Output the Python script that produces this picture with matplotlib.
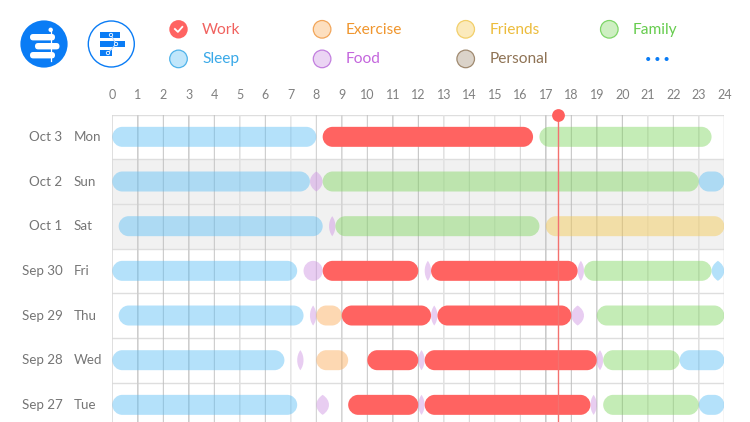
# -*- coding: utf-8 -*-
import matplotlib
matplotlib.use("Agg")
import matplotlib.pyplot as plt
from matplotlib.patches import Circle, FancyBboxPatch, PathPatch, Polygon
from matplotlib.path import Path

plt.rcParams["font.family"] = ["Lato", "DejaVu Sans"]

# ==============================================================
#  Data (hours of the day, per row, top row first)
# ==============================================================
dates = ["Oct 3", "Oct 2", "Oct 1", "Sep 30", "Sep 29", "Sep 28", "Sep 27"]
weekdays = ["Mon", "Sun", "Sat", "Fri", "Thu", "Wed", "Tue"]
hours = list(range(25))
now_hour = 17.47

oct3 = [("Sleep", 0, 8), ("Work", 8.25, 16.5), ("Family", 16.75, 23.5)]
oct2 = [("Sleep", 0, 7.75), ("Food", 7.75, 8.25), ("Family", 8.25, 23), ("Sleep", 23, 24)]
oct1 = [("Sleep", 0.25, 8.25), ("Food", 8.5, 8.75), ("Family", 8.75, 16.75), ("Friends", 17, 24)]
sep30 = [("Sleep", 0, 7.25), ("Food", 7.5, 8.25), ("Work", 8.25, 12), ("Food", 12.25, 12.5),
         ("Work", 12.5, 18.25), ("Food", 18.25, 18.5), ("Family", 18.5, 23.5), ("Sleep", 23.5, 24)]
sep29 = [("Sleep", 0.25, 7.5), ("Food", 7.75, 8), ("Exercise", 8, 9), ("Work", 9, 12.5),
         ("Food", 12.5, 12.75), ("Work", 12.75, 18), ("Food", 18, 18.5), ("Family", 19, 24)]
sep28 = [("Sleep", 0, 6.75), ("Food", 7.25, 7.5), ("Exercise", 8, 9.25), ("Work", 10, 12),
         ("Food", 12, 12.25), ("Work", 12.25, 19), ("Food", 19, 19.25), ("Family", 19.25, 22.25),
         ("Sleep", 22.25, 24)]
sep27 = [("Sleep", 0, 7.25), ("Food", 8, 8.5), ("Work", 9.25, 12), ("Food", 12, 12.25),
         ("Work", 12.25, 18.75), ("Food", 18.75, 19), ("Family", 19.25, 23), ("Sleep", 23, 24)]
rows = [oct3, oct2, oct1, sep30, sep29, sep28, sep27]

shaded_rows = [1, 2]

legend_top = ["Work", "Exercise", "Friends", "Family"]
legend_bottom = ["Sleep", "Food", "Personal"]

bar_colors = {"Work": "#ff6361", "Sleep": "#5abef6", "Family": "#7ed55d", "Food": "#cc90e2",
              "Exercise": "#fbaa56", "Friends": "#f5c84e", "Personal": "#a08a70"}
text_colors = {"Work": "#f0625f", "Exercise": "#f0962e", "Friends": "#ecbc3c", "Family": "#66cc4e",
               "Sleep": "#3aa9e8", "Food": "#c466dd", "Personal": "#8f7355"}
edge_colors = {"Work": "#ff5c5a", "Exercise": "#f2a65a", "Friends": "#f2cf6a", "Family": "#7ed668",
               "Sleep": "#4fb3ea", "Food": "#c27fdf", "Personal": "#a08a70"}

# grid shade per hour: the lines alternate soft and crisp in the picture
grid_styles = {0: ("#d8d8d8", 1.0), 1: ("#cdcdcd", 1.6), 2: ("#bdbdbd", 0.9), 3: ("#cdcdcd", 1.6),
               4: ("#c0c0c0", 0.9), 5: ("#e0e0e0", 1.6), 6: ("#c0c0c0", 0.9), 7: ("#e6e6e6", 1.6),
               8: ("#c8c8c8", 0.9), 9: ("#d4d4d4", 1.6), 10: ("#c0c0c0", 0.9), 11: ("#d0d0d0", 1.6),
               12: ("#b8b8b8", 0.9), 13: ("#e2e2e2", 1.6), 14: ("#cfcfcf", 0.9), 15: ("#d8d8d8", 0.9),
               16: ("#cfcfcf", 0.9), 17: ("#cacaca", 1.6), 18: ("#bbbbbb", 0.9), 19: ("#d0d0d0", 1.6),
               20: ("#b8b8b8", 0.9), 21: ("#e4e4e4", 1.6), 22: ("#c8c8c8", 0.9), 23: ("#e0e0e0", 1.6),
               24: ("#d0d0d0", 1.0)}

W, H = 750, 422
LEFT, RIGHT, TOP = 112.3, 724.3, 114.5
ROW_PX = 44.67
BAR_PX = 20.0
KAPPA = 0.5523
BLUE = "#0a7cf5"


def lens_path(start, end, row, half_h):
    # blunt lens: pointed top and bottom, width of the time span
    mid = (start + end) / 2
    ctl = (end - start) * 0.66
    verts = [(mid, row - half_h),
             (mid + ctl, row - half_h * 0.45), (mid + ctl, row + half_h * 0.45), (mid, row + half_h),
             (mid - ctl, row + half_h * 0.45), (mid - ctl, row - half_h * 0.45), (mid, row - half_h)]
    codes = [Path.MOVETO] + [Path.CURVE4] * 6
    return Path(verts, codes)


def stadium_path(start, end, row, half_h, rx):
    # bar with elliptical ends, rx in hours, half_h in rows
    y0, y1 = row - half_h, row + half_h
    kx, ky = rx * (1 - KAPPA), half_h * (1 - KAPPA)
    verts = [(start + rx, y0), (end - rx, y0),
             (end - kx, y0), (end, y0 + ky), (end, row),
             (end, y1 - ky), (end - kx, y1), (end - rx, y1),
             (start + rx, y1),
             (start + kx, y1), (start, y1 - ky), (start, row),
             (start, y0 + ky), (start + kx, y0), (start + rx, y0)]
    codes = [Path.MOVETO, Path.LINETO] + [Path.CURVE4] * 6 + [Path.LINETO] + [Path.CURVE4] * 6
    return Path(verts, codes)


def draw_segment(ax, name, start, end, row, px_x, px_y):
    """Rounded bar; anything narrower than the bar height becomes a lens."""
    alpha = 1.0 if name == "Work" else 0.45
    half_h = BAR_PX / 2 / px_y
    width_px = (end - start) * px_x
    if width_px < 14:
        path = lens_path(start, end, row, half_h)
    else:
        path = stadium_path(start, end, row, half_h, min(BAR_PX / 2, width_px / 2) / px_x)
    ax.add_patch(PathPatch(path, fc=bar_colors[name], ec="none", alpha=alpha, zorder=3))


def draw_legend_and_icons(ov):
    # legend
    for idx, name in enumerate(legend_top + legend_bottom):
        col, line = (idx, 0) if idx < 4 else (idx - 4, 1)
        cx = 178.5 + 143.6 * col
        cy = 29.3 + 29.6 * line
        if name == "Work":
            ov.add_patch(Circle((cx, cy), 9.2, fc=bar_colors[name], ec="none"))
            ov.plot([cx - 3.6, cx - 0.6, cx + 3.8], [cy - 0.3, cy + 2.6, cy - 2.4], color="white", lw=1.3)
        else:
            ov.add_patch(Circle((cx, cy), 8.8, fc=bar_colors[name] + "60", ec=edge_colors[name], lw=0.9))
        ov.text(cx + 23.5, cy + 0.5, name, color=text_colors[name], fontsize=11.2, va="center", ha="left")
    for dx in (648.2, 657.4, 666.6):
        ov.add_patch(Circle((dx, 59), 2.0, fc=BLUE, ec="none"))

    # filled app icon
    ov.add_patch(Circle((44, 44), 23.6, fc=BLUE, ec="none"))
    for x0, x1, y0 in [(30, 55, 34), (35, 59.5, 43), (30, 55, 52)]:
        ov.add_patch(FancyBboxPatch((x0, y0), x1 - x0, 6.4, boxstyle="round,pad=0,rounding_size=3.2",
                                    fc="white", ec="none"))
    ov.plot([50.7, 50.7], [30, 61], color="white", lw=0.9)
    ov.add_patch(Circle((50.7, 29.8), 2.2, fc="white", ec="none"))

    # outlined icon
    ov.add_patch(Circle((111.3, 44), 23, fc="white", ec=BLUE, lw=1.0))
    for x0, x1, y0 in [(100, 120, 32), (100, 124.7, 40.7), (100, 111.7, 50)]:
        ov.add_patch(Polygon([(x0, y0), (x1, y0), (x1, y0 + 6.2), (x0, y0 + 6.2)], fc=BLUE, ec="none"))
    nodes = [(111, 35), (116, 44), (108, 53)]
    ov.plot([n[0] for n in nodes], [n[1] for n in nodes], color="#bcd9fb", lw=0.8)
    for n in nodes:
        ov.add_patch(Circle(n, 1.7, fc=BLUE, ec="white", lw=0.6, zorder=5))


def main():
    fig = plt.figure(figsize=(W / 100, H / 100), dpi=100, facecolor="white")
    ax = fig.add_axes([LEFT / W, 0, (RIGHT - LEFT) / W, (H - TOP) / H])
    px_x = (RIGHT - LEFT) / 24
    ax.set_xlim(0, 24)
    ax.set_ylim((H - TOP) / ROW_PX - 0.5, -0.5)
    for side in ax.spines.values():
        side.set_visible(False)

    # row bands and grid
    for r in shaded_rows:
        ax.axhspan(r - 0.5, r + 0.5, color="#f1f1f1", lw=0, zorder=0)
    for r in range(len(rows) + 1):
        ax.axhline(r - 0.5, color="#dedede", lw=1.0, zorder=1)
    for h in hours:
        color, lw = grid_styles[h]
        ax.axvline(h, color=color, lw=lw * 0.72, zorder=2, snap=False)

    # activity bars
    for r, segments in enumerate(rows):
        for name, start, end in segments:
            draw_segment(ax, name, start, end, r, px_x, ROW_PX)

    # now marker
    ax.axvline(now_hour, color="#f4716f", lw=1.0, zorder=4)
    ax.plot([now_hour], [-0.5], "o", ms=9.2, mfc="#ff5f5d", mec="none", clip_on=False, zorder=5)

    # axis labels
    ax.xaxis.tick_top()
    ax.set_xticks(hours)
    ax.set_xticklabels([str(h) for h in hours], fontsize=9, color="#808080")
    ax.tick_params(axis="x", length=0, pad=10)
    ax.set_yticks([])
    for r, (day, wd) in enumerate(zip(dates, weekdays)):
        ax.annotate(day, (0, r), xycoords=("axes fraction", "data"), xytext=(-49.8, 0),
                    textcoords="offset pixels", ha="right", va="center", fontsize=9.6, color="#757575")
        ax.annotate(wd, (0, r), xycoords=("axes fraction", "data"), xytext=(-38.5, 0),
                    textcoords="offset pixels", ha="left", va="center", fontsize=9.6, color="#757575")

    # pixel overlay for the header
    ov = fig.add_axes([0, 0, 1, 1], facecolor="none")
    ov.set_xlim(0, W)
    ov.set_ylim(H, 0)
    ov.axis("off")
    draw_legend_and_icons(ov)

    fig.savefig("out.png", dpi=100)
    plt.close(fig)


if __name__ == "__main__":
    main()
